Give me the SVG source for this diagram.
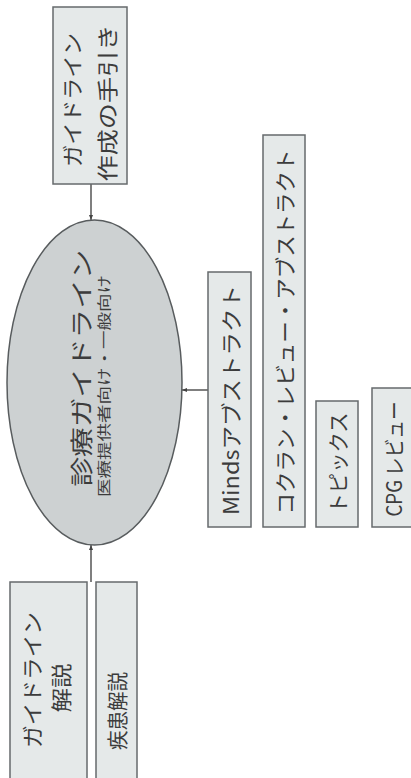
<svg xmlns="http://www.w3.org/2000/svg" width="411" height="778" viewBox="0 0 411 778">
<style>
.box{fill:#e5e9e9;stroke:#666a6c;stroke-width:1.5}
.ell{fill:#cdd1d2;stroke:#585c5e;stroke-width:1.5}
.t{font-family:"Noto Sans CJK JP","Noto Sans",sans-serif;fill:#3c3c3c;text-anchor:middle;dominant-baseline:central}
.conn{stroke:#555;stroke-width:1.5;fill:none}
</style>
<defs>
<marker id="arr" viewBox="0 0 10 10" refX="10" refY="5" markerWidth="5" markerHeight="5" orient="auto" markerUnits="userSpaceOnUse">
<path d="M0,1 L10,5 L0,9 z" fill="#444"/>
</marker>
</defs>
<g id="connectors">
<line class="conn" x1="91" y1="184" x2="91" y2="220" marker-end="url(#arr)"/>
<line class="conn" x1="208" y1="390" x2="182" y2="390" marker-end="url(#arr)"/>
<line class="conn" x1="91" y1="582" x2="91" y2="545" marker-end="url(#arr)"/>
</g>
<g id="guide-making">
<rect class="box" x="53" y="7" width="74" height="177"/>
<text class="t" font-size="21" textLength="134" lengthAdjust="spacingAndGlyphs" transform="translate(71,100) rotate(-90)">ガイドライン</text>
<text class="t" font-size="21" textLength="157" lengthAdjust="spacingAndGlyphs" transform="translate(106,103) rotate(-90)">作成の手引き</text>
</g>
<g id="cpg">
<ellipse class="ell" cx="94.5" cy="382.5" rx="87.5" ry="162.5"/>
<text class="t" font-size="23" textLength="237" lengthAdjust="spacingAndGlyphs" transform="translate(80,368) rotate(-90)">診療ガイドライン</text>
<text class="t" font-size="14" textLength="222" lengthAdjust="spacingAndGlyphs" transform="translate(103,386) rotate(-90)">医療提供者向け・一般向け</text>
</g>
<g id="minds">
<rect class="box" x="208" y="272" width="43" height="255"/>
<text class="t" font-size="21" textLength="230" lengthAdjust="spacingAndGlyphs" transform="translate(229.5,400) rotate(-90)">Mindsアブストラクト</text>
</g>
<g id="cochrane">
<rect class="box" x="263" y="135" width="42" height="392"/>
<text class="t" font-size="21" textLength="365" lengthAdjust="spacingAndGlyphs" transform="translate(284,332) rotate(-90)">コクラン・レビュー・アブストラクト</text>
</g>
<g id="topics">
<rect class="box" x="316" y="401" width="42" height="126"/>
<text class="t" font-size="21" textLength="101" lengthAdjust="spacingAndGlyphs" transform="translate(337,463) rotate(-90)">トピックス</text>
</g>
<g id="cpg-review">
<rect class="box" x="372" y="388" width="50" height="139"/>
<text class="t" font-size="21" textLength="115" lengthAdjust="spacingAndGlyphs" transform="translate(393,459) rotate(-90)">CPG レビュー</text>
</g>
<g id="guide-commentary">
<rect class="box" x="10" y="582" width="77" height="205"/>
<text class="t" font-size="21" textLength="136" lengthAdjust="spacingAndGlyphs" transform="translate(31,680) rotate(-90)">ガイドライン</text>
<text class="t" font-size="21" textLength="49" lengthAdjust="spacingAndGlyphs" transform="translate(60,688) rotate(-90)">解説</text>
</g>
<g id="disease">
<rect class="box" x="96" y="582" width="41" height="205"/>
<text class="t" font-size="21" textLength="78" lengthAdjust="spacingAndGlyphs" transform="translate(116,711) rotate(-90)">疾患解説</text>
</g>
</svg>
